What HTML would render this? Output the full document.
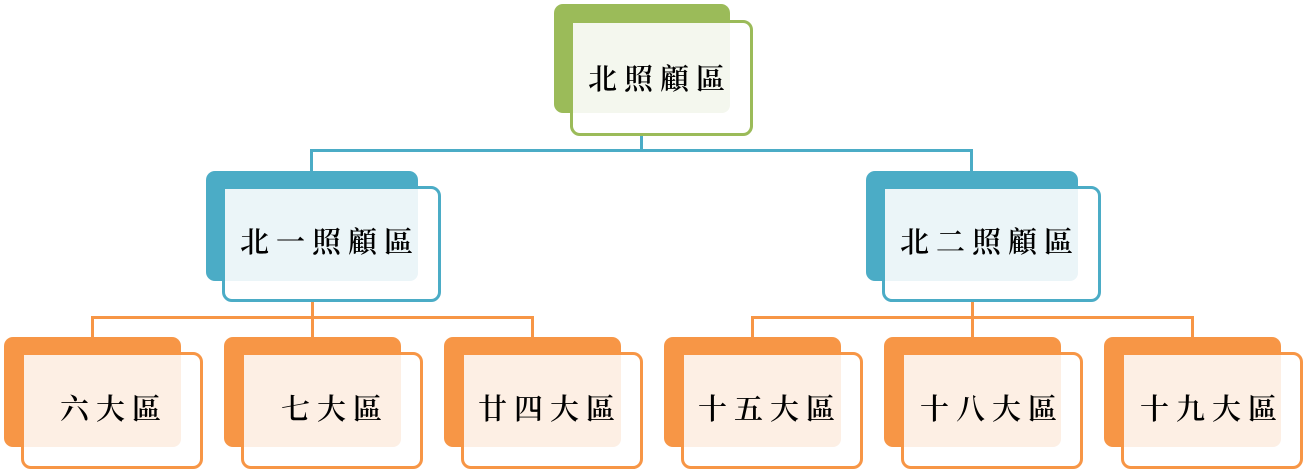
<!DOCTYPE html>
<html><head><meta charset="utf-8"><style>
body{margin:0;width:1308px;height:473px;background:#fff;position:relative;overflow:hidden;font-family:"Liberation Serif","Noto Serif CJK SC","Noto Sans CJK TC",serif}
.a{position:absolute;box-sizing:border-box}
.bk{border-radius:9px}
.fr{border-radius:10px;background:#fff;border:3px solid}
.t{position:absolute;color:#000;letter-spacing:7px;font-size:29px;font-weight:600;line-height:40px;white-space:nowrap}
.l{position:absolute}
</style></head><body>
<!-- connectors -->
<div class="l" style="left:640px;top:134px;width:3px;height:17px;background:#4bacc6"></div>
<div class="l" style="left:310px;top:149px;width:663px;height:3px;background:#4bacc6"></div>
<div class="l" style="left:310px;top:149px;width:3px;height:38px;background:#4bacc6"></div>
<div class="l" style="left:970px;top:149px;width:3px;height:38px;background:#4bacc6"></div>

<div class="l" style="left:311px;top:300px;width:3px;height:18px;background:#f79646"></div>
<div class="l" style="left:91px;top:316px;width:443px;height:3px;background:#f79646"></div>
<div class="l" style="left:91px;top:316px;width:3px;height:36px;background:#f79646"></div>
<div class="l" style="left:311px;top:316px;width:3px;height:36px;background:#f79646"></div>
<div class="l" style="left:531px;top:316px;width:3px;height:36px;background:#f79646"></div>
<div class="l" style="left:971px;top:300px;width:3px;height:18px;background:#f79646"></div>
<div class="l" style="left:751px;top:316px;width:443px;height:3px;background:#f79646"></div>
<div class="l" style="left:751px;top:316px;width:3px;height:36px;background:#f79646"></div>
<div class="l" style="left:971px;top:316px;width:3px;height:36px;background:#f79646"></div>
<div class="l" style="left:1191px;top:316px;width:3px;height:36px;background:#f79646"></div>

<!-- top -->
<div class="a bk" style="left:554px;top:4px;width:176px;height:109px;background:#9bbb59"></div>
<div class="a fr" style="left:570px;top:20px;width:183px;height:116px;border-color:#9bbb59"></div>
<div class="a" style="left:573px;top:23px;width:157px;height:90px;background:#f4f7ee;border-radius:0 0 8px 0"></div>
<div class="t" style="left:588px;top:60px">北照顧區</div>

<!-- level 2 -->
<div class="a bk" style="left:206px;top:171px;width:212px;height:110px;background:#4bacc6"></div>
<div class="a fr" style="left:222px;top:186px;width:219px;height:116px;border-color:#4bacc6"></div>
<div class="a" style="left:225px;top:189px;width:193px;height:92px;background:#ebf5f8;border-radius:0 0 8px 0"></div>
<div class="t" style="left:240px;top:223px">北一照顧區</div>

<div class="a bk" style="left:866px;top:171px;width:212px;height:110px;background:#4bacc6"></div>
<div class="a fr" style="left:882px;top:186px;width:219px;height:116px;border-color:#4bacc6"></div>
<div class="a" style="left:885px;top:189px;width:193px;height:92px;background:#ebf5f8;border-radius:0 0 8px 0"></div>
<div class="t" style="left:900px;top:223px">北二照顧區</div>

<!-- level 3 -->
<div class="a bk" style="left:4px;top:337px;width:177px;height:110px;background:#f79646"></div>
<div class="a fr" style="left:21px;top:352px;width:182px;height:117px;border-color:#f79646"></div>
<div class="a" style="left:24px;top:355px;width:157px;height:92px;background:#fdefe4;border-radius:0 0 8px 0"></div>
<div class="t" style="left:60px;top:390px">六大區</div>

<div class="a bk" style="left:224px;top:337px;width:177px;height:110px;background:#f79646"></div>
<div class="a fr" style="left:241px;top:352px;width:182px;height:117px;border-color:#f79646"></div>
<div class="a" style="left:244px;top:355px;width:157px;height:92px;background:#fdefe4;border-radius:0 0 8px 0"></div>
<div class="t" style="left:281px;top:390px">七大區</div>

<div class="a bk" style="left:444px;top:337px;width:177px;height:110px;background:#f79646"></div>
<div class="a fr" style="left:461px;top:352px;width:182px;height:117px;border-color:#f79646"></div>
<div class="a" style="left:464px;top:355px;width:157px;height:92px;background:#fdefe4;border-radius:0 0 8px 0"></div>
<div class="t" style="left:478px;top:390px">廿四大區</div>

<div class="a bk" style="left:664px;top:337px;width:177px;height:110px;background:#f79646"></div>
<div class="a fr" style="left:681px;top:352px;width:182px;height:117px;border-color:#f79646"></div>
<div class="a" style="left:684px;top:355px;width:157px;height:92px;background:#fdefe4;border-radius:0 0 8px 0"></div>
<div class="t" style="left:698px;top:390px">十五大區</div>

<div class="a bk" style="left:884px;top:337px;width:177px;height:110px;background:#f79646"></div>
<div class="a fr" style="left:901px;top:352px;width:182px;height:117px;border-color:#f79646"></div>
<div class="a" style="left:904px;top:355px;width:157px;height:92px;background:#fdefe4;border-radius:0 0 8px 0"></div>
<div class="t" style="left:920px;top:390px">十八大區</div>

<div class="a bk" style="left:1104px;top:337px;width:177px;height:110px;background:#f79646"></div>
<div class="a fr" style="left:1121px;top:352px;width:182px;height:117px;border-color:#f79646"></div>
<div class="a" style="left:1124px;top:355px;width:157px;height:92px;background:#fdefe4;border-radius:0 0 8px 0"></div>
<div class="t" style="left:1140px;top:390px">十九大區</div>
</body></html>
